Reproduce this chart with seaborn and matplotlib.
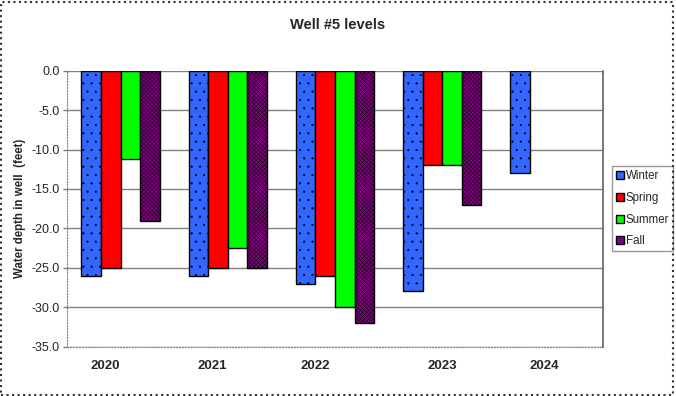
import numpy as np
import pandas as pd
import seaborn as sns
import matplotlib.pyplot as plt
from matplotlib.patches import Rectangle

years = ['2020', '2021', '2022', '2023', '2024']
seasons = ['Winter', 'Spring', 'Summer', 'Fall']
winter = [-26, -26, -27, -28, -13]
spring = [-25, -25, -26, -12, np.nan]
summer = [-11.2, -22.5, -30, -12, np.nan]
fall = [-19, -25, -32, -17, np.nan]
season_colors = ['#3366FF', '#FF0000', '#00FF00', '#800080']
season_hatches = ['..', '', '', 'xxxxxxxx']
# the year labels in the original sit a little left of their bar groups
label_shift = [-0.146, -0.147, -0.187, 0.0, -0.047]

df = pd.DataFrame({'year': years, 'Winter': winter, 'Spring': spring,
                   'Summer': summer, 'Fall': fall})
long_df = df.melt(id_vars='year', var_name='season', value_name='depth')
long_df = long_df.dropna()

sns.set_style('white')
plt.rcParams['font.family'] = ['Liberation Sans', 'DejaVu Sans']
plt.rcParams['hatch.linewidth'] = 0.3

fig = plt.figure(figsize=(6.76, 3.96), dpi=100)
ax = fig.add_axes([0.0991, 0.1245, 0.7929, 0.697])

ax.yaxis.grid(True, color='#808080', lw=1)
ax.set_axisbelow(True)

sns.barplot(data=long_df, x='year', y='depth', hue='season', order=years,
            hue_order=seasons, palette=season_colors, width=0.73,
            edgecolor='black', linewidth=1, saturation=1, errorbar=None, ax=ax)

for cont, h in zip(ax.containers, season_hatches):
    for bar in cont:
        bar.set_hatch(h)

ax.set_ylim(-35, 0)
ax.set_yticks(np.arange(-35, 1, 5))
ax.set_yticklabels([f'{v:.1f}' for v in np.arange(-35, 1, 5)], fontsize=9)
ax.tick_params(axis='y', left=True, length=3, width=1, color='#808080', pad=2)
ax.set_xlim(-0.5, 4.5)
ax.set_xticks([i + s for i, s in enumerate(label_shift)])
ax.set_xticklabels(years, fontsize=9.5, fontweight='bold')
ax.tick_params(axis='x', bottom=False, pad=6)
ax.set_xlabel('')
ax.set_ylabel('Water depth in well  (feet)', fontsize=8.3, fontweight='bold', labelpad=4)

ax.spines['top'].set_visible(False)
ax.spines['left'].set_color('#808080')
ax.spines['left'].set_linestyle(':')
ax.spines['bottom'].set_color('#808080')
ax.spines['bottom'].set_linestyle(':')
ax.spines['right'].set_color('#606060')
ax.spines['right'].set_linewidth(1.2)

leg = ax.legend(loc='center left', bbox_to_anchor=(1.017, 0.5), fontsize=8.3,
                frameon=True, fancybox=False, edgecolor='#808080',
                handlelength=0.7, handleheight=0.7, handletextpad=0.15,
                borderpad=0.35, labelspacing=0.85, borderaxespad=0)
leg.get_frame().set_linewidth(1)

fig.text(0.5, 1 - 25 / 396, 'Well #5 levels', ha='center', va='center',
         fontsize=10.5, fontweight='bold')

fig.add_artist(Rectangle((0.002, 0.003), 0.993, 0.993, transform=fig.transFigure,
                         fill=False, ec='#333333', lw=1.5, ls=':'))

fig.savefig('out.png', dpi=100)
